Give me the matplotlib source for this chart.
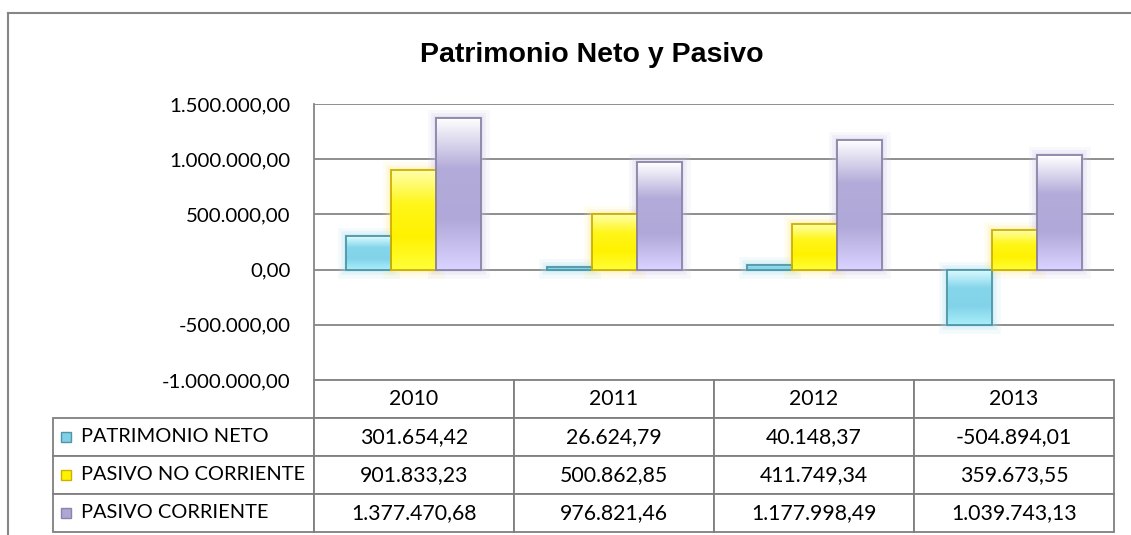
import matplotlib.pyplot as plt
import numpy as np
import matplotlib.patheffects as pe
from matplotlib.colors import LinearSegmentedColormap
from matplotlib.patches import Rectangle
from matplotlib.lines import Line2D

# Datos de la tabla
years = ['2010', '2011', '2012', '2013']
series = ['PATRIMONIO NETO', 'PASIVO NO CORRIENTE', 'PASIVO CORRIENTE']
patrimonio_neto = [301654.42, 26624.79, 40148.37, -504894.01]
pasivo_no_corriente = [901833.23, 500862.85, 411749.34, 359673.55]
pasivo_corriente = [1377470.68, 976821.46, 1177998.49, 1039743.13]
y_ticks = [-1000000, -500000, 0, 500000, 1000000, 1500000]

values = [patrimonio_neto, pasivo_no_corriente, pasivo_corriente]

# Degradados (de abajo hacia arriba), color de borde y color del cuadro de leyenda
gradients = [
    ['#a8eefa', '#82d3e9', '#86d6eb', '#dcfcff'],
    ['#ffff38', '#fff200', '#fff61a', '#ffffaa'],
    ['#dad2ff', '#b0a8d8', '#b3abd9', '#ffffff'],
]
edge_colors = ['#4f95a6', '#cdb100', '#8a84a8']
key_colors = ['#7fcfe6', '#fff200', '#aea6d4']
glow_colors = ['#9fdcec', '#ffe98a', '#c8c2e6']

plt.rcParams['font.family'] = ['Lato', 'DejaVu Sans']


def fmt(v):
    s = f'{v:,.2f}'
    return s.replace(',', 'X').replace('.', ',').replace('X', '.')


fig = plt.figure(figsize=(11.31, 5.35), dpi=100)
ax = fig.add_axes([314 / 1131, 155 / 535, 800 / 1131, 276 / 535])

x = np.arange(len(years))
w = 0.225
for i, vals in enumerate(values):
    cmap = LinearSegmentedColormap.from_list('g%d' % i, gradients[i])
    grad = np.linspace(0, 1, 100).reshape(-1, 1)
    # halo suave alrededor de las barras
    ax.bar(x + (i - 1) * w, vals, width=w, facecolor='none', edgecolor='none',
           zorder=1.5,
           path_effects=[pe.Stroke(linewidth=12, foreground=glow_colors[i], alpha=0.12),
                         pe.Stroke(linewidth=7, foreground=glow_colors[i], alpha=0.18),
                         pe.Stroke(linewidth=3, foreground=glow_colors[i], alpha=0.25)])
    bars = ax.bar(x + (i - 1) * w, vals, width=w, facecolor='none',
                  edgecolor=edge_colors[i], linewidth=1.3, zorder=3)
    for b in bars:
        x0, y0 = b.get_x(), b.get_y()
        y1 = y0 + b.get_height()
        im = ax.imshow(grad, cmap=cmap, aspect='auto', origin='lower',
                       extent=[x0, x0 + w, min(y0, y1), max(y0, y1)], zorder=2)
        im.set_clip_path(b)

ax.set_xlim(-0.5, 3.5)
ax.set_ylim(-1000000, 1500000)
ax.set_yticks(y_ticks)
ax.set_yticklabels([fmt(v) for v in y_ticks])
ax.set_xticks([])
ax.tick_params(axis='y', length=0, pad=17, labelsize=14.7)
ax.yaxis.grid(True, color='#868686', linewidth=1.3)
ax.set_axisbelow(True)
for s in ['top', 'right', 'bottom']:
    ax.spines[s].set_visible(False)
ax.spines['left'].set_color('#868686')
ax.spines['left'].set_linewidth(1.3)

# Tabla de datos
cell_text = [[''] + years]
for name, vals in zip(series, values):
    cell_text.append([''] + [fmt(v) for v in vals])
left = (53 - 314) / 800
tbl_h = 152 / 276
tbl = ax.table(cellText=cell_text, colWidths=[261, 200, 200, 200, 200],
               cellLoc='center', bbox=[left, -tbl_h, 1 - left, tbl_h])
tbl.auto_set_font_size(False)
tbl.set_fontsize(15.3)
for (r, c), cell in tbl.get_celld().items():
    cell.set_edgecolor('#7f7f7f')
    cell.set_linewidth(1.3)
tbl[(0, 0)].visible_edges = ''

row_h = tbl_h / 4
for k, name in enumerate(series):
    yc = -(k + 1.5) * row_h
    ax.add_patch(Rectangle(((61 - 314) / 800, yc - 5 / 276), 10 / 800, 10 / 276,
                           facecolor=key_colors[k], edgecolor=edge_colors[k],
                           linewidth=1, transform=ax.transAxes, clip_on=False))
    ax.text((81 - 314) / 800, yc, name, transform=ax.transAxes, fontsize=14.4,
            ha='left', va='center')

# Título
fig.text(592 / 1131, 1 - 55 / 535, 'Patrimonio Neto y Pasivo', ha='center',
         va='center', fontsize=20.5, fontweight='bold',
         family=['Liberation Sans', 'DejaVu Sans'])

# Marco del gráfico
fx = 8 / 1131
fy = 1 - 13 / 535
fig.add_artist(Line2D([fx, fx], [0, fy], transform=fig.transFigure,
                      color='#868686', linewidth=1.5))
fig.add_artist(Line2D([fx, 1], [fy, fy], transform=fig.transFigure,
                      color='#868686', linewidth=1.5))

fig.savefig('out.png', dpi=100)
